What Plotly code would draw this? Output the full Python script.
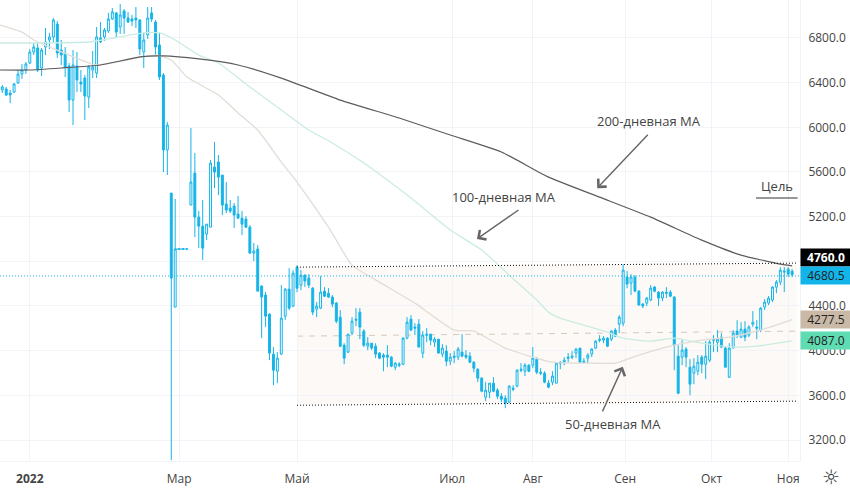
import plotly.graph_objects as go

# --- candles (price) ---
opens = [6334,6343,6307,6316,6397,6477,6513,6576,6674,6710,6531,6719,6782,6809,6925,6692,6665,6549,6244,6549,
6406,6441,6271,6513,6486,6800,6809,6862,6970,7024,6898,7041,6979,6970,6979,6961,6674,6827,7024,6943,
6737,6468,5797,5411,4390,4910,4910,4910,5304,5590,5196,5115,5044,5106,5644,5689,5572,5313,5277,5295,
5223,5187,5178,5106,4874,4910,4578,4498,4327,3969,3816,3969,4309,4551,4399,4748,4587,4676,4650,4560,
4372,4381,4533,4515,4480,4426,4300,4049,3987,4157,4282,4345,4175,4040,4067,4040,3978,3960,3960,3942,
3852,3879,3879,4112,4282,4211,4237,3978,4148,4148,4076,4103,3969,3996,3906,3951,3942,3987,3960,3951,
3897,3834,3754,3583,3628,3709,3646,3592,3575,3539,3664,3682,3834,3816,3870,3870,3924,3807,3798,3709,
3718,3709,3897,3897,3942,3951,3978,4023,3906,3933,3969,4023,4103,4094,4112,4103,4184,4237,4246,4659,
4605,4659,4533,4417,4426,4453,4569,4524,4471,4524,4524,4480,3951,3942,4014,3852,3798,3816,3942,3879,
3915,4103,4076,4121,4023,3763,4023,4175,4121,4193,4139,4237,4211,4184,4390,4426,4453,4569,4614,4703,
4730,4712]
highs = [6379,6361,6334,6397,6513,6567,6585,6701,6755,6755,6710,6889,6845,6979,6952,6782,6719,6576,6692,6674,
6513,6468,6558,6683,6898,6943,6889,7024,7068,7033,7104,7059,7033,7006,7077,6970,6845,7077,7077,6961,
6845,6486,6047,5411,5358,4910,4910,4910,5993,5770,5250,5349,5133,5707,5868,5752,5572,5510,5349,5322,
5385,5250,5205,5124,4964,4946,4587,4525,4336,4032,3987,4587,4560,4739,4721,4766,4721,4685,4685,4569,
4435,4668,4569,4560,4498,4435,4363,4067,4148,4300,4381,4381,4193,4121,4067,4067,3987,3978,4049,3951,
3897,3897,4121,4300,4318,4246,4282,4175,4202,4148,4121,4103,4058,4049,3978,3996,4032,4148,4005,3987,
3906,3843,3763,3718,3709,3763,3664,3619,3601,3691,3691,3834,3888,3888,3879,4032,3942,3843,3816,3736,
3816,3897,3906,3942,3978,3996,4023,4023,3933,3978,4023,4094,4139,4130,4121,4184,4202,4318,4775,4712,
4685,4676,4542,4426,4480,4587,4578,4533,4533,4569,4542,4488,4049,4094,4032,3924,3933,3960,3960,4085,
4094,4139,4184,4157,4032,4067,4184,4273,4255,4264,4228,4354,4273,4390,4462,4489,4578,4632,4748,4748,
4748,4730]
lows = [6307,6280,6217,6307,6388,6433,6477,6567,6647,6495,6459,6647,6701,6764,6621,6558,6450,6137,6020,6316,
6316,6065,6173,6441,6441,6755,6773,6845,6961,6800,6836,6836,6934,6907,6889,6647,6531,6791,6943,6647,
6424,5599,5573,3020,4390,4910,4910,4910,5304,5017,4918,4811,4990,5106,5456,5393,5214,5232,5232,5098,
5178,5035,5098,4865,4802,4533,4112,4211,3915,3691,3709,3960,4273,4363,4390,4524,4542,4569,4560,4318,
4300,4372,4480,4471,4390,4246,4032,3879,3978,4139,4219,4103,4032,4005,4005,3933,3924,3816,3852,3852,
3825,3852,3870,4103,4175,4139,4032,3933,4076,4049,4032,3978,3942,3861,3870,3888,3915,3942,3924,3888,
3807,3718,3628,3548,3575,3628,3566,3539,3485,3530,3637,3673,3807,3772,3807,3843,3789,3781,3709,3664,
3691,3709,3834,3870,3897,3924,3933,3888,3888,3888,3942,4014,4076,4067,4032,4085,4121,4157,4219,4560,
4498,4524,4408,4381,4399,4444,4524,4399,4444,4471,4480,3825,3610,3870,3852,3601,3700,3781,3798,3745,
3897,3987,3987,4023,3852,3754,4023,4112,4112,4085,4121,4211,4103,4166,4363,4408,4435,4515,4587,4524,
4659,4659]
closes = [6361,6289,6289,6388,6477,6513,6567,6674,6719,6513,6692,6764,6809,6961,6665,6647,6540,6244,6558,6424,
6388,6280,6540,6540,6809,6764,6871,6970,7033,6853,7006,6979,6943,6952,6961,6701,6782,6979,6970,6719,
6450,5797,6020,4650,4910,4910,4910,4910,5510,5196,5115,4918,5133,5680,5599,5554,5304,5259,5250,5214,
5187,5133,5106,4874,4892,4533,4480,4309,3978,3825,3933,4291,4551,4381,4694,4560,4676,4623,4587,4345,
4399,4524,4488,4480,4417,4264,4040,3933,4148,4264,4273,4211,4049,4067,4023,3969,3933,3942,3942,3861,
3888,3870,4112,4255,4184,4202,4032,4139,4139,4094,4103,3978,4023,3906,3942,3942,4014,3951,3942,3897,
3843,3754,3637,3646,3709,3637,3592,3566,3530,3682,3655,3825,3825,3870,3816,3933,3807,3798,3718,3673,
3772,3888,3888,3915,3933,3942,4014,3897,3897,3960,4014,4085,4094,4112,4040,4175,4130,4300,4721,4596,
4659,4533,4408,4399,4471,4560,4533,4471,4524,4515,4488,4049,3619,4005,3942,3700,3861,3897,3879,3951,
4076,4094,4103,4032,3852,4023,4157,4139,4193,4121,4211,4255,4202,4381,4435,4471,4569,4614,4721,4712,
4685,4680.5]

# --- moving averages, read at a few positions ---
ma200_x = [-0.6,7,15,25,35,41,50,60,71,86,101,114,127,139,152,165,178,188,198,201]
ma200_y = [6513,6513,6531,6558,6630,6639,6612,6558,6441,6244,6083,5931,5779,5554,5375,5196,4990,4856,4775,4760]
ma100_x = [-0.6,22,27,36,40,44,50,55,63,71,78,84,92,104,114,122,129,136,139,142,154,158,165,171,178,186,192,201]
ma100_y = [6755,6764,6791,6845,6845,6782,6647,6576,6361,6155,5976,5860,5680,5367,5080,4901,4676,4453,4345,4291,4166,4112,4085,4112,4067,4032,4040,4087]
ma50_x = [-0.6,5,8,20,24,39,43,47,55,60,65,71,75,83,89,96,105,115,120,128,140,150,156,162,171,178,185,193,201]
ma50_y = [6916,6853,6782,6603,6558,6647,6603,6450,6289,6128,5976,5689,5510,5106,4766,4614,4426,4184,4175,4023,3897,3888,3888,3960,4049,4094,4121,4184,4277.5]

# --- channel ---
channel_x = [75, 202.2]
channel_top = [4748, 4784]
channel_mid = [4130, 4175]
channel_bottom = [3511, 3548]

# --- axes ---
month_pos = [7, 45, 75, 114.5, 135, 158.5, 180.5, 200]
month_labels = ["<b>2022</b>", "Мар", "Май", "Июл", "Авг", "Сен", "Окт", "Ноя"]
price_ticks = [3200, 3600, 4000, 4400, 4800, 5200, 5600, 6000, 6400, 6800]
price_labels = ["3200.0", "3600.0", "4000.0", "4400.0", "", "5200.0", "5600.0", "6000.0", "6400.0", "6800.0"]
x_view = [-0.585, 203.0]
y_view = [3012, 7140]

# --- last-value tags (label, price, price level the tag sits at) ---
tag_values = [4760.0, 4680.5, 4277.5, 4087.0]
tag_levels = [4830, 4669, 4277.5, 4087.0]
tag_text = ["<b>4760.0</b>", "4680.5", "4277.5", "4087.0"]
tag_bg = ["#000000", "#12b5ea", "#c9b9a6", "#5fdcb2"]
tag_fg = ["#ffffff", "#222222", "#222222", "#222222"]

BLUE = "#16b4e8"
GRID = "#f1f3f8"
TXT = "#444444"
FONT = "Open Sans"

fig = go.Figure()
idx = list(range(len(opens)))
fig.add_trace(go.Candlestick(
    x=idx, open=opens, high=highs, low=lows, close=closes,
    increasing=dict(line=dict(color=BLUE, width=1), fillcolor="#ffffff"),
    decreasing=dict(line=dict(color=BLUE, width=1), fillcolor=BLUE),
    whiskerwidth=0, showlegend=False, hoverinfo="skip"))
# flat run while the market was shut
fig.add_trace(go.Scatter(x=idx[44:48], y=closes[44:48], mode="lines", line=dict(color=BLUE, width=1), showlegend=False, hoverinfo="skip"))
SPL = dict(shape="spline", smoothing=0.5)
fig.add_trace(go.Scatter(x=ma50_x, y=ma50_y, mode="lines", line=dict(color="#e2dcd5", width=1.3, **SPL), showlegend=False, hoverinfo="skip"))
fig.add_trace(go.Scatter(x=ma100_x, y=ma100_y, mode="lines", line=dict(color="#c9ece2", width=1.3, **SPL), showlegend=False, hoverinfo="skip"))
fig.add_trace(go.Scatter(x=ma200_x, y=ma200_y, mode="lines", line=dict(color="#5c5c5c", width=1.2, **SPL), showlegend=False, hoverinfo="skip"))

x0, x1 = channel_x
poly = f"M {x0} {channel_top[0]} L {x1} {channel_top[1]} L {x1} {channel_bottom[1]} L {x0} {channel_bottom[0]} Z"
DOT = "1px,2px"
shapes = [
    dict(type="path", path=poly, fillcolor="rgba(225,195,170,0.10)", line=dict(width=0), layer="below"),
    dict(type="line", x0=x0, x1=x1, y0=channel_mid[0], y1=channel_mid[1], line=dict(color="#d8c8bc", width=1, dash="6px,6px"), layer="below"),
    dict(type="line", x0=x0, x1=x1, y0=channel_top[0], y1=channel_top[1], line=dict(color="#111111", width=1, dash=DOT)),
    dict(type="line", x0=x0, x1=x1, y0=channel_bottom[0], y1=channel_bottom[1], line=dict(color="#111111", width=1, dash=DOT)),
    dict(type="line", xref="paper", x0=0, x1=1, y0=tag_levels[1], y1=tag_levels[1], line=dict(color=BLUE, width=1, dash=DOT)),
    dict(type="line", x0=191.8, x1=202.4, y0=5367, y1=5367, line=dict(color="#333333", width=1)),
]

annotations = []
for v, t, bg, fg in zip(tag_levels, tag_text, tag_bg, tag_fg):
    annotations.append(dict(xref="paper", x=1, xanchor="left", y=v, yref="y", text=t, showarrow=False,
                            bgcolor=bg, width=50, height=17, align="center", borderpad=0,
                            font=dict(family=FONT, size=12, color=fg)))
for text, tx, ty in [("200-дневная МА", 164.5, 6055), ("100-дневная МА", 127.7, 5375), ("50-дневная МА", 155.5, 3345), ("Цель", 197.2, 5475)]:
    annotations.append(dict(x=tx, y=ty, text=text, showarrow=False, font=dict(family=FONT, size=13, color="#444444")))
for hx, hy, ax, ay in [(151.4, 5455, 52, -55), (120.8, 5000, 43, -30), (157.9, 3855, -21, 46)]:
    annotations.append(dict(x=hx, y=hy, text="", showarrow=True, ax=ax, ay=ay, arrowhead=4, arrowsize=1.6, arrowwidth=1.4, arrowcolor="#666666"))
annotations.append(dict(xref="paper", yref="paper", x=1.0388, y=-0.034, yanchor="middle", xanchor="center", text="☼", showarrow=False,
                        width=22, height=20, borderpad=0, font=dict(family="DejaVu Sans", size=20, color="#333333")))

fig.update_layout(
    width=850, height=490, margin=dict(l=0, r=50, t=0, b=29),
    plot_bgcolor="#ffffff", paper_bgcolor="#ffffff",
    font=dict(family=FONT, size=12, color=TXT),
    shapes=shapes, annotations=annotations, showlegend=False,
    xaxis=dict(range=x_view, tickmode="array", tickvals=month_pos, ticktext=month_labels, showgrid=True, gridcolor=GRID,
               gridwidth=1, rangeslider=dict(visible=False), zeroline=False, showline=True, linecolor=GRID,
               ticks="", tickfont=dict(family=FONT, size=12, color=TXT), ticklabelstandoff=7),
    yaxis=dict(range=y_view, side="right", tickmode="array", tickvals=price_ticks, ticktext=price_labels, showgrid=True, gridcolor=GRID,
               gridwidth=1, zeroline=False, showline=True, linecolor=GRID, ticks="",
               tickfont=dict(family=FONT, size=12, color=TXT), ticklabelstandoff=5),
)
fig.write_html("out.html", config=dict(displayModeBar=False),
               post_script="document.body.style.margin='0';document.body.style.overflow='hidden';")
